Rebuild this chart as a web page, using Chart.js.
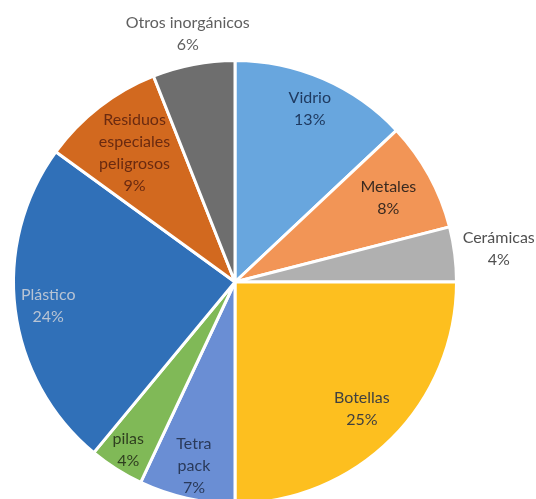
<!DOCTYPE html>
<html><head><meta charset="utf-8">
<script src="https://cdn.jsdelivr.net/npm/chart.js@4.4.1/dist/chart.umd.min.js"></script>
<style>
html,body{margin:0;padding:0;background:#fff;overflow:hidden;width:536px;height:499px;}
#wrap{width:536px;height:520px;}
</style></head>
<body><div id="wrap"><canvas id="c" width="536" height="520"></canvas></div>
<script>
const categories = ['Vidrio','Metales','Cerámicas','Botellas','Tetra pack','pilas','Plástico','Residuos especiales peligrosos','Otros inorgánicos'];
const values = [13, 8, 4, 25, 7, 4, 24, 9, 6];
const labelLines = [['Vidrio'],['Metales'],['Cerámicas'],['Botellas'],['Tetra','pack'],['pilas'],['Plástico'],['Residuos','especiales','peligrosos'],['Otros inorgánicos']];

const colors = ['#68a6de','#f29556','#b0b0b0','#fdbf1f','#6a8ed4','#80b957','#3070b8','#d2691f','#6e6e6e'];
const textColors = ['#1f3a60','#3a2a20','#505050','#404040','#2a3a5a','#2f3f20','#b8c4d4','#6a2a10','#606060'];
const radialFactor = [0.85, 0.79, 1.2, 0.81, 0.85, 0.9, 0.85, 0.74, 1.14];

const labelPlugin = {
  id: 'sliceLabels',
  afterDatasetsDraw(chart) {
    const ctx = chart.ctx;
    const meta = chart.getDatasetMeta(0);
    ctx.save();
    ctx.font = '16px Lato, "Open Sans", sans-serif';
    ctx.textAlign = 'center';
    ctx.textBaseline = 'middle';
    const lh = 22;
    meta.data.forEach((arc, i) => {
      const p = arc.getProps(['x','y','startAngle','endAngle','outerRadius'], true);
      const mid = (p.startAngle + p.endAngle) / 2;
      const r = p.outerRadius * radialFactor[i];
      const cx = p.x + Math.cos(mid) * r;
      const cy = p.y + Math.sin(mid) * r;
      const lines = labelLines[i].concat([values[i] + '%']);
      const y0 = cy - (lines.length - 1) * lh / 2;
      ctx.fillStyle = textColors[i];
      lines.forEach((t, k) => ctx.fillText(t, cx, y0 + k * lh));
    });
    ctx.restore();
  }
};

new Chart(document.getElementById('c'), {
  type: 'pie',
  data: {
    labels: categories,
    datasets: [{
      data: values,
      backgroundColor: colors,
      borderColor: '#ffffff',
      borderWidth: 3
    }]
  },
  options: {
    responsive: false,
    devicePixelRatio: 1,
    animation: false,
    layout: { padding: { left: 12, right: 78, top: 59, bottom: 15 } },
    plugins: { legend: { display: false }, tooltip: { enabled: false } }
  },
  plugins: [labelPlugin]
});
</script>
</body></html>
